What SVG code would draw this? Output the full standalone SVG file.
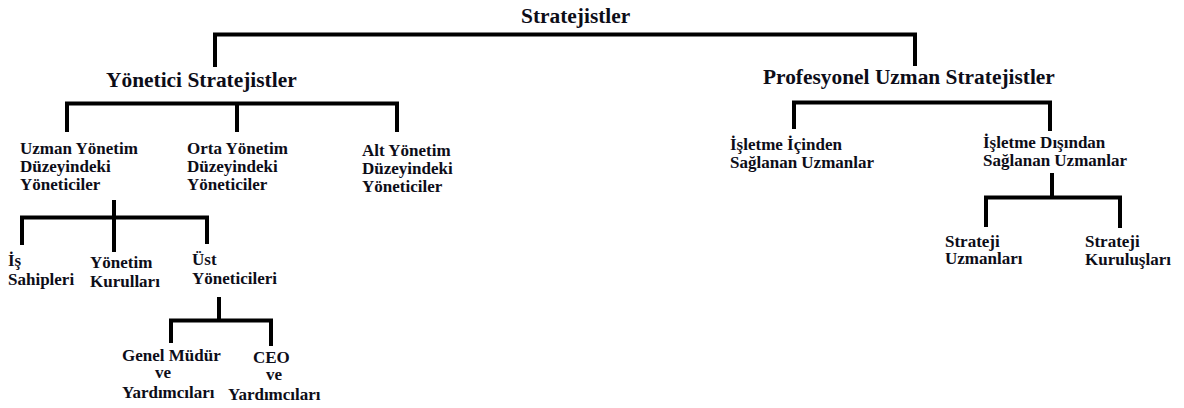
<svg xmlns="http://www.w3.org/2000/svg" width="1184" height="408" viewBox="0 0 1184 408">
  <style>
    .bg { fill: #ffffff; }
    .link { fill: none; stroke: #000000; stroke-width: 4; stroke-linejoin: miter; stroke-linecap: butt; }
    .title { font-family: "Liberation Serif", "Times New Roman", serif; font-weight: bold; font-size: 21.4px; fill: #0d0d18; }
    .label { font-family: "Liberation Serif", "Times New Roman", serif; font-weight: bold; font-size: 17px; fill: #0d0d18; }
  </style>

  <rect class="bg" x="0" y="0" width="1184" height="408"/>

  <!-- tree connectors -->
  <g id="connectors">
    <path class="link" d="M215,67 V34.5 H915 V66"/>
    <path class="link" d="M67,132 V103.5 H397 V132 M237,103.5 V132"/>
    <path class="link" d="M794,129 V102.5 H1050 V131"/>
    <path class="link" d="M114,200 V252 M22,245 V217.5 H207 V244"/>
    <path class="link" d="M219,297 V320.5 M171,343 V320.5 H271 V346"/>
    <path class="link" d="M1052,173 V197.5 M986,227 V197.5 H1120 V228"/>
  </g>

  <!-- root -->
  <g id="node-root">
    <text class="title" x="521" y="23">Stratejistler</text>
  </g>

  <!-- level 1 -->
  <g id="node-yonetici">
    <text class="title" x="106" y="87">Yönetici Stratejistler</text>
  </g>
  <g id="node-profesyonel">
    <text class="title" x="763" y="84">Profesyonel Uzman Stratejistler</text>
  </g>

  <!-- level 2: managers -->
  <g id="node-uzman-yonetim">
    <text class="label" x="20" y="154">Uzman Yönetim</text>
    <text class="label" x="20" y="172">Düzeyindeki</text>
    <text class="label" x="20" y="190">Yöneticiler</text>
  </g>
  <g id="node-orta-yonetim">
    <text class="label" x="187" y="154">Orta Yönetim</text>
    <text class="label" x="187" y="172">Düzeyindeki</text>
    <text class="label" x="187" y="190">Yöneticiler</text>
  </g>
  <g id="node-alt-yonetim">
    <text class="label" x="362" y="156">Alt Yönetim</text>
    <text class="label" x="362" y="174">Düzeyindeki</text>
    <text class="label" x="362" y="192">Yöneticiler</text>
  </g>

  <!-- level 2: experts -->
  <g id="node-icinden">
    <text class="label" x="730" y="150">İşletme İçinden</text>
    <text class="label" x="730" y="168">Sağlanan Uzmanlar</text>
  </g>
  <g id="node-disindan">
    <text class="label" x="983" y="148">İşletme Dışından</text>
    <text class="label" x="983" y="166">Sağlanan Uzmanlar</text>
  </g>

  <!-- level 3 -->
  <g id="node-is-sahipleri">
    <text class="label" x="8" y="266">İş</text>
    <text class="label" x="8" y="285">Sahipleri</text>
  </g>
  <g id="node-yonetim-kurullari">
    <text class="label" x="90" y="268">Yönetim</text>
    <text class="label" x="90" y="287">Kurulları</text>
  </g>
  <g id="node-ust-yoneticileri">
    <text class="label" x="192" y="265">Üst</text>
    <text class="label" x="192" y="284">Yöneticileri</text>
  </g>
  <g id="node-strateji-uzmanlari">
    <text class="label" x="945" y="247">Strateji</text>
    <text class="label" x="945" y="264">Uzmanları</text>
  </g>
  <g id="node-strateji-kuruluslari">
    <text class="label" x="1085" y="247">Strateji</text>
    <text class="label" x="1085" y="265">Kuruluşları</text>
  </g>

  <!-- level 4 -->
  <g id="node-genel-mudur">
    <text class="label" x="122" y="361">Genel Müdür</text>
    <text class="label" x="155" y="378">ve</text>
    <text class="label" x="122" y="398">Yardımcıları</text>
  </g>
  <g id="node-ceo">
    <text class="label" x="253" y="363">CEO</text>
    <text class="label" x="266" y="380">ve</text>
    <text class="label" x="228" y="400">Yardımcıları</text>
  </g>
</svg>
